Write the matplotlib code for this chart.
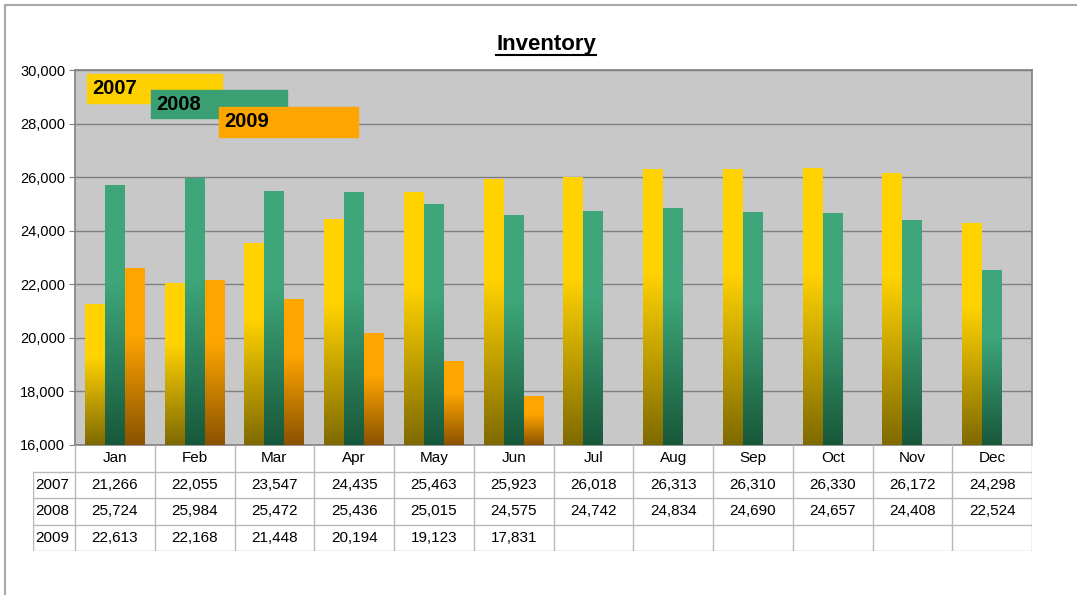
import matplotlib.pyplot as plt
import numpy as np
from matplotlib.colors import LinearSegmentedColormap
from matplotlib.patches import Rectangle
from matplotlib.lines import Line2D

plt.rcParams['font.family'] = ['Liberation Sans', 'DejaVu Sans']

# data
months = ['Jan', 'Feb', 'Mar', 'Apr', 'May', 'Jun',
          'Jul', 'Aug', 'Sep', 'Oct', 'Nov', 'Dec']
years = ['2007', '2008', '2009']
inv_2007 = [21266, 22055, 23547, 24435, 25463, 25923,
            26018, 26313, 26310, 26330, 26172, 24298]
inv_2008 = [25724, 25984, 25472, 25436, 25015, 24575,
            24742, 24834, 24690, 24657, 24408, 22524]
inv_2009 = [22613, 22168, 21448, 20194, 19123, 17831]
series = [inv_2007, inv_2008, inv_2009]

# (top colour, bottom colour, legend colour)
styles = [('#FFD200', '#7F6A00', '#FFD000'),
          ('#3EA67A', '#18583A', '#3AA074'),
          ('#FFA500', '#8A5200', '#FFA500')]

W, H = 1077, 595
fig = plt.figure(figsize=(W / 100, H / 100), dpi=100)

def px_axes(x0, y0, x1, y1):
    return fig.add_axes([x0 / W, 1 - y1 / H, (x1 - x0) / W, (y1 - y0) / H])

# outer border (only top and left visible)
fig.add_artist(Rectangle((5 / W, -0.1), 1.2, 1.1 - 5 / H, transform=fig.transFigure,
                         fill=False, edgecolor='#A8A8A8', lw=1.5))

ax = px_axes(75, 70, 1032, 445)
ax.set_facecolor('#C8C8C8')
ymin, ymax = 16000, 30000

width = 0.25
x = np.arange(12)
for i, vals in enumerate(series):
    top, bot, _ = styles[i]
    cmap = LinearSegmentedColormap.from_list('g%d' % i, [(0, bot), (0.62, top), (1, top)])
    xs = x[:len(vals)] + 0.125 + i * width
    bars = ax.bar(xs, np.array(vals) - ymin, width, bottom=ymin, align='edge',
                  color='none', edgecolor='none', zorder=3)
    grad = np.linspace(0, 1, 256).reshape(-1, 1)
    for b in bars:
        x0, y0 = b.get_x(), b.get_y()
        im = ax.imshow(grad, cmap=cmap, origin='lower', aspect='auto',
                       extent=(x0, x0 + b.get_width(), y0, y0 + b.get_height()),
                       zorder=3)
        im.set_clip_path(b)

ax.set_xlim(0, 12)
ax.set_ylim(ymin, ymax)
ax.set_yticks(np.arange(16000, 30001, 2000))
ax.set_yticklabels(['{:,}'.format(v) for v in range(16000, 30001, 2000)], fontsize=10.5)
ax.set_xticks([])
ax.grid(axis='y', color='#808080', lw=1, zorder=1)
ax.tick_params(axis='y', length=4, color='#808080', pad=3)
for s in ax.spines.values():
    s.set_color('#808080')
    s.set_linewidth(1.2)

# title with underline
title = fig.text(546 / W, 1 - 50 / H, 'Inventory', fontsize=16, fontweight='bold',
                 ha='center', va='baseline')
fig.canvas.draw()
bb = title.get_window_extent(fig.canvas.get_renderer())
uy = H - 54.5
fig.add_artist(Line2D([bb.x0 / W, bb.x1 / W], [uy / H, uy / H], color='black', lw=1.5,
                      transform=fig.transFigure))

# legend boxes
leg_boxes = [(87, 74, 222, 103), (151, 90, 287, 118), (219, 107, 358, 137)]
for i, (bx0, by0, bx1, by1) in enumerate(leg_boxes):
    fig.add_artist(Rectangle((bx0 / W, 1 - by1 / H), (bx1 - bx0) / W, (by1 - by0) / H,
                             transform=fig.transFigure, color=styles[i][2], zorder=5))
    fig.text((bx0 + 5) / W, 1 - (by0 + by1) / 2 / H, years[i], fontsize=14.5,
             fontweight='bold', va='center', ha='left', zorder=6)

# data table
left = -42 / 79.75
tab = px_axes(33, 445, 1032, 551)
tab.set_xlim(left, 12)
tab.set_ylim(4, 0)
tab.axis('off')
lc = '#B8B8B8'
for k in range(1, 5):
    tab.plot([left, 12], [k, k], color=lc, lw=1)
for c in range(13):
    tab.plot([c, c], [0, 4], color=lc, lw=1)
tab.plot([left, left], [1, 4], color=lc, lw=1)
for c, m in enumerate(months):
    tab.text(c + 0.5, 0.5, m, ha='center', va='center', fontsize=11)
for r, vals in enumerate(series):
    tab.text(left + 0.03, r + 1.5, years[r], ha='left', va='center', fontsize=11)
    for c, v in enumerate(vals):
        tab.text(c + 0.5, r + 1.5, '{:,}'.format(v), ha='center', va='center', fontsize=11)

fig.savefig('out.png', dpi=100)
